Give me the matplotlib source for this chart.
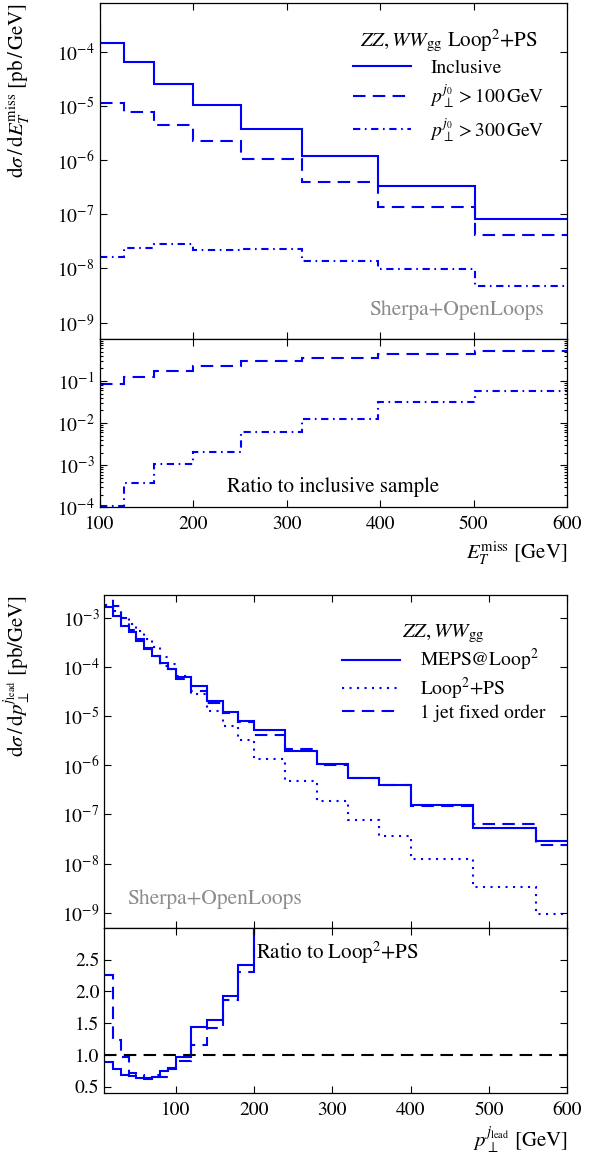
import matplotlib
matplotlib.use("Agg")
import matplotlib.pyplot as plt
from matplotlib.ticker import NullLocator, LogLocator, FixedLocator

plt.rcParams["font.family"] = ["STIXGeneral", "DejaVu Serif"]
plt.rcParams["mathtext.fontset"] = "stix"
plt.rcParams["font.size"] = 14

BLUE = "#0000ff"
GREY = "#8c8c8c"
DASHED = (0, (6, 3.5))
DOTTED = (0, (1, 2.6))
DASHDOT = (0, (3.5, 2.2, 0.8, 2.2))

# --- E_T^miss distribution (upper figure) ---
met_edges = [79.4, 100, 125.9, 158.5, 199.5, 251.2, 316.2, 398.1, 501.2, 631.0]
met_inclusive = [3.1e-4, 1.47e-4, 6.4e-5, 2.6e-5, 1.05e-5, 3.8e-6, 1.2e-6, 3.3e-7, 8.3e-8]
met_pt100 = [1.15e-5, 7.6e-6, 4.45e-6, 2.3e-6, 1.04e-6, 4.0e-7, 1.36e-7, 4.1e-8]
met_pt300 = [1.62e-8, 2.4e-8, 2.85e-8, 2.2e-8, 2.3e-8, 1.36e-8, 9.9e-9, 4.7e-9]
ratio_pt100 = [0.083, 0.125, 0.174, 0.233, 0.30, 0.356, 0.44, 0.525]
ratio_pt300 = [1.1e-4, 3.8e-4, 1.08e-3, 2.1e-3, 6.2e-3, 0.0123, 0.031, 0.0586]

# --- leading jet pT distribution (lower figure) ---
pt_edges = [10, 20, 30, 40, 50, 60, 70, 80, 90, 100, 120, 140, 160, 180, 200,
            240, 280, 320, 360, 400, 480, 560, 640]
pt_meps = [1.62e-3, 1.10e-3, 6.9e-4, 5.1e-4, 3.4e-4, 2.3e-4, 1.65e-4, 1.21e-4,
           8.9e-5, 6.2e-5, 4.0e-5, 2.0e-5, 1.22e-5, 7.9e-6, 5.1e-6, 1.98e-6,
           1.06e-6, 5.5e-7, 3.97e-7, 1.56e-7, 5.3e-8, 2.95e-8]
pt_loop2ps = [1.82e-3, 1.4e-3, 1.0e-3, 7.6e-4, 5.4e-4, 3.7e-4, 2.5e-4, 1.62e-4,
              1.13e-4, 6.4e-5, 2.78e-5, 1.29e-5, 6.3e-6, 3.26e-6, 1.36e-6, 4.9e-7,
              1.9e-7, 7.9e-8, 3.7e-8, 1.26e-8, 3.4e-9, 9.3e-10]
pt_fixed = [4.1e-3, 1.7e-3, 9.7e-4, 5.5e-4, 3.7e-4, 2.37e-4, 1.7e-4, 1.05e-4,
            8.9e-5, 5.8e-5, 3.2e-5, 1.83e-5, 1.18e-5, 7.6e-6, 4.1e-6, 2.17e-6,
            1.0e-6, 5.6e-7, 4.0e-7, 1.52e-7, 6.5e-8, 2.45e-8]
ratio_meps = [0.89, 0.785, 0.685, 0.669, 0.633, 0.617, 0.66, 0.748, 0.785,
              0.968, 1.44, 1.547, 1.93, 2.42, 3.75]
ratio_fixed = [2.26, 1.23, 0.97, 0.72, 0.68, 0.64, 0.69, 0.65, 0.79, 0.90,
               1.16, 1.42, 1.87, 2.31, 3.0]


def style_axis(ax):
    ax.tick_params(which="both", direction="in", top=True, right=True,
                   width=0.8, labelsize=14)
    ax.tick_params(which="major", length=5)
    ax.tick_params(which="minor", length=2.5)
    ax.tick_params(axis="x", pad=6)
    for s in ax.spines.values():
        s.set_linewidth(0.9)


fig = plt.figure(figsize=(5.97, 11.6), dpi=100)

# upper figure
ax1 = fig.add_axes([0.1667, 0.7078, 0.7831, 0.2897])
ax2 = fig.add_axes([0.1667, 0.5627, 0.7831, 0.1451], sharex=ax1)

ax1.stairs(met_inclusive, met_edges, baseline=None, color=BLUE, lw=1.5,
           label="Inclusive")
ax1.stairs(met_pt100, met_edges[1:], baseline=None, color=BLUE, lw=1.5,
           ls=DASHED, label=r"$p_\perp^{j_0} > 100\,$GeV")
ax1.stairs(met_pt300, met_edges[1:], baseline=None, color=BLUE, lw=1.5,
           ls=DASHDOT, label=r"$p_\perp^{j_0} > 300\,$GeV")
ax1.set_yscale("log")
ax1.set_xlim(100, 600)
ax1.set_ylim(5e-10, 8e-4)
ax1.yaxis.set_minor_locator(NullLocator())
ax1.yaxis.set_major_locator(FixedLocator([1e-9, 1e-8, 1e-7, 1e-6, 1e-5, 1e-4]))
style_axis(ax1)
ax1.tick_params(labelbottom=False)
ax1.set_ylabel(r"d$\sigma\,/\,$d$E_T^{\rm miss}$ [pb$\,/\,$GeV]", fontsize=15,
               loc="top")
ax1.yaxis.set_label_coords(-0.145, 1.0)
ax1.legend(loc="upper right", bbox_to_anchor=(0.99, 0.98), frameon=False,
           title=r"$ZZ, WW_{\rm gg}$ Loop$^2$+PS", title_fontsize=15,
           fontsize=14, handlelength=3.0, handletextpad=1.0,
           labelspacing=0.3)
ax1.text(0.95, 0.085, "Sherpa+OpenLoops", transform=ax1.transAxes,
         ha="right", va="center", color=GREY, fontsize=15.5)

ax2.stairs(ratio_pt100, met_edges[1:], baseline=None, color=BLUE, lw=1.5,
           ls=DASHED)
ax2.stairs(ratio_pt300, met_edges[1:], baseline=None, color=BLUE, lw=1.5,
           ls=DASHDOT)
ax2.axhline(1.0, color=GREY, lw=1.2, ls=DASHED)
ax2.set_yscale("log")
ax2.set_ylim(1e-4, 1.0)
ax2.yaxis.set_major_locator(FixedLocator([1e-4, 1e-3, 1e-2, 1e-1]))
ax2.yaxis.set_minor_locator(LogLocator(subs=range(2, 10)))
ax2.set_xticks([100, 200, 300, 400, 500, 600])
style_axis(ax2)
ax2.text(0.5, 0.12, "Ratio to inclusive sample", transform=ax2.transAxes,
         ha="center", va="center", fontsize=15)
ax2.set_xlabel(r"$E_T^{\rm miss}$ [GeV]", fontsize=15, loc="right", labelpad=5)

# lower figure
ax3 = fig.add_axes([0.1747, 0.2003, 0.7755, 0.2868])
ax4 = fig.add_axes([0.1747, 0.0575, 0.7755, 0.1428], sharex=ax3)

ax3.stairs(pt_meps, pt_edges, baseline=None, color=BLUE, lw=1.5,
           label=r"MEPS@Loop$^2$")
ax3.stairs(pt_loop2ps, pt_edges, baseline=None, color=BLUE, lw=1.5,
           ls=DOTTED, label=r"Loop$^2$+PS")
ax3.stairs(pt_fixed, pt_edges, baseline=None, color=BLUE, lw=1.5,
           ls=DASHED, label="1 jet fixed order")
ax3.set_yscale("log")
ax3.set_xlim(9, 600)
ax3.set_ylim(5e-10, 2.9e-3)
ax3.yaxis.set_minor_locator(NullLocator())
ax3.yaxis.set_major_locator(FixedLocator([1e-9, 1e-8, 1e-7, 1e-6, 1e-5, 1e-4, 1e-3]))
style_axis(ax3)
ax3.tick_params(labelbottom=False)
ax3.set_ylabel(r"d$\sigma\,/\,$d$p_\perp^{j_{\rm lead}}$ [pb/GeV]", fontsize=15,
               loc="top")
ax3.yaxis.set_label_coords(-0.155, 1.0)
ax3.legend(loc="upper right", bbox_to_anchor=(0.99, 0.97), frameon=False,
           title=r"$ZZ, WW_{\rm gg}$", title_fontsize=15, fontsize=14,
           handlelength=3.0, handletextpad=1.0, labelspacing=0.12)
ax3.text(0.05, 0.085, "Sherpa+OpenLoops", transform=ax3.transAxes,
         ha="left", va="center", color=GREY, fontsize=15.5)

ax4.stairs(ratio_meps, pt_edges[:16], baseline=None, color=BLUE, lw=1.5)
ax4.stairs(ratio_fixed, pt_edges[:16], baseline=None, color=BLUE, lw=1.5,
           ls=DASHED)
ax4.axhline(1.0, color="black", lw=1.5, ls=DASHED)
ax4.set_ylim(0.4, 3.0)
ax4.set_yticks([0.5, 1.0, 1.5, 2.0, 2.5])
ax4.set_xticks([100, 200, 300, 400, 500, 600])
style_axis(ax4)
ax4.text(203, 2.6, r"Ratio to Loop$^2$+PS", ha="left", va="center",
         fontsize=15)
ax4.set_xlabel(r"$p_\perp^{j_{\rm lead}}$ [GeV]", fontsize=15, loc="right",
               labelpad=5)

fig.savefig("out.png", dpi=100)
